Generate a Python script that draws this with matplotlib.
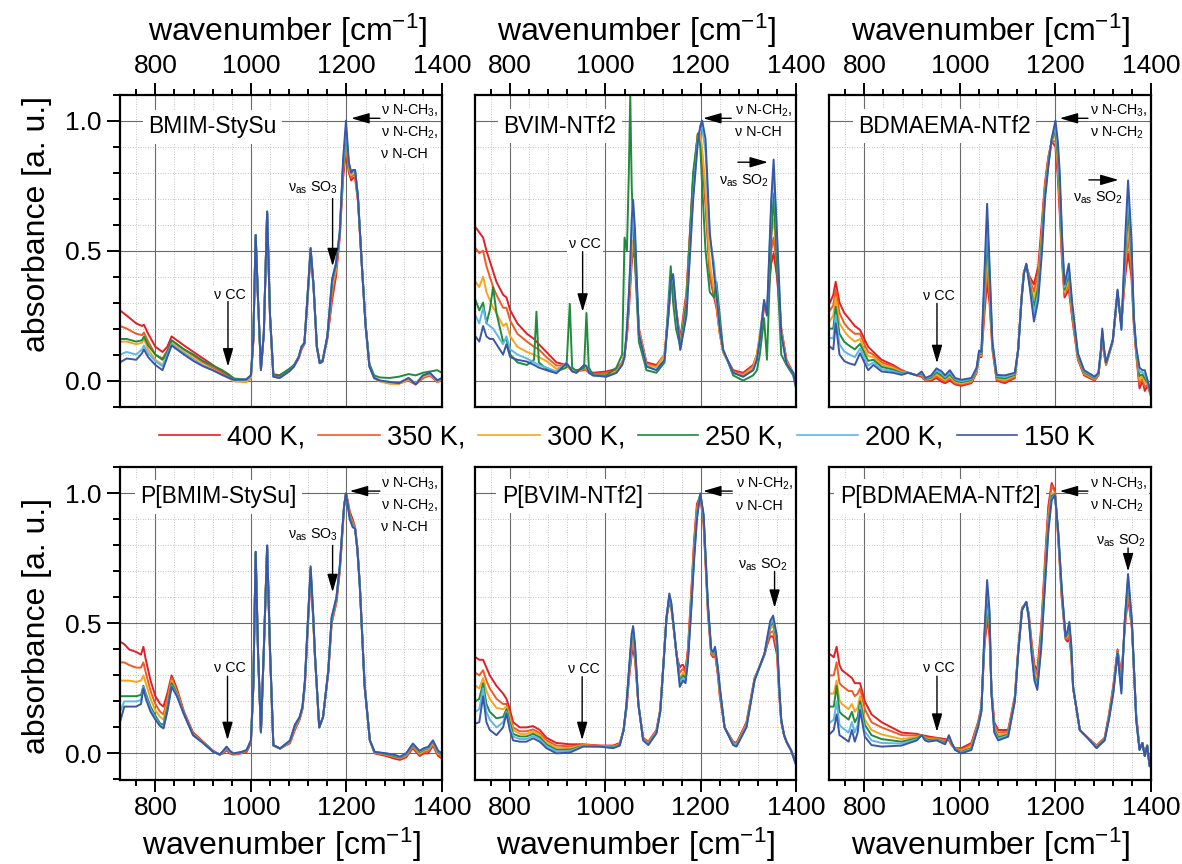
import matplotlib
matplotlib.use("Agg")
import matplotlib.pyplot as plt
from matplotlib.ticker import FixedLocator, MultipleLocator, FormatStrFormatter

plt.rcParams['font.family'] = ['Liberation Sans', 'DejaVu Sans']
plt.rcParams['mathtext.fontset'] = 'custom'
plt.rcParams['mathtext.rm'] = 'Liberation Sans'
plt.rcParams['mathtext.it'] = 'Liberation Sans:italic'
plt.rcParams['mathtext.bf'] = 'Liberation Sans:bold'

temps = ["400 K", "350 K", "300 K", "250 K", "200 K", "150 K"]
colors = ["#e31e24", "#f15a24", "#f8a51c", "#1f8b3b", "#5cb8e8", "#3a56a6"]

# ---------------- BMIM-StySu ----------------
bmim_wn = [726, 740, 760, 772, 776, 785, 800, 815, 825, 834, 845, 860, 880, 900, 920, 940, 952, 965, 990, 1000,
           1005, 1010, 1015, 1021, 1027, 1034, 1040, 1047, 1060, 1080, 1090, 1100, 1106, 1112, 1118, 1125, 1131, 1138, 1144, 1150,
           1160, 1170, 1178, 1186, 1193, 1199, 1205, 1210, 1214, 1218, 1224, 1232, 1240, 1248, 1258, 1270, 1290, 1310, 1330, 1345,
           1360, 1375, 1390, 1400]
bmim_400 = [0.27, 0.25, 0.22, 0.21, 0.215, 0.18, 0.13, 0.11, 0.13, 0.17,
            0.155, 0.135, 0.11, 0.085, 0.06, 0.035, 0.02, 0.005, -0.005, 0.01,
            0.15, 0.55, 0.30, 0.05, 0.18, 0.64, 0.25, 0.025, 0.02, 0.04,
            0.055, 0.085, 0.12, 0.14, 0.29, 0.49, 0.36, 0.13, 0.07, 0.075,
            0.16, 0.31, 0.40, 0.55, 0.78, 0.88, 0.80, 0.77, 0.78, 0.78,
            0.69, 0.45, 0.22, 0.06, 0.012, 0.0, -0.01, -0.01, 0.0, -0.015,
            0.01, 0.02, -0.005, 0.0]
bmim_350 = [0.21, 0.20, 0.18, 0.175, 0.185, 0.15, 0.10, 0.085, 0.115, 0.155,
            0.14, 0.12, 0.095, 0.07, 0.05, 0.03, 0.015, 0.0, -0.005, 0.01,
            0.15, 0.555, 0.30, 0.045, 0.18, 0.645, 0.25, 0.02, 0.015, 0.037,
            0.055, 0.087, 0.125, 0.142, 0.30, 0.50, 0.365, 0.13, 0.068, 0.074,
            0.165, 0.33, 0.42, 0.56, 0.80, 0.90, 0.81, 0.78, 0.79, 0.79,
            0.70, 0.45, 0.215, 0.057, 0.01, -0.002, -0.01, -0.012, 0.002, -0.012,
            0.012, 0.022, -0.005, 0.002]
bmim_300 = [0.15, 0.15, 0.14, 0.145, 0.16, 0.12, 0.08, 0.06, 0.10, 0.145,
            0.13, 0.11, 0.085, 0.06, 0.042, 0.022, 0.01, -0.003, -0.006, 0.01,
            0.155, 0.56, 0.305, 0.04, 0.18, 0.65, 0.25, 0.015, 0.01, 0.035,
            0.054, 0.088, 0.128, 0.144, 0.305, 0.505, 0.368, 0.13, 0.066, 0.073,
            0.168, 0.36, 0.43, 0.565, 0.82, 0.93, 0.82, 0.79, 0.80, 0.80,
            0.705, 0.45, 0.21, 0.055, 0.008, -0.003, -0.012, -0.012, 0.003, -0.01,
            0.014, 0.024, -0.004, 0.004]
bmim_250 = [0.16, 0.16, 0.15, 0.155, 0.17, 0.135, 0.10, 0.08, 0.11, 0.155,
            0.14, 0.12, 0.10, 0.075, 0.058, 0.04, 0.026, 0.008, 0.004, 0.02,
            0.16, 0.56, 0.31, 0.045, 0.18, 0.65, 0.25, 0.02, 0.02, 0.045,
            0.06, 0.092, 0.13, 0.146, 0.31, 0.505, 0.37, 0.135, 0.072, 0.078,
            0.17, 0.38, 0.445, 0.57, 0.83, 0.95, 0.83, 0.80, 0.81, 0.81,
            0.71, 0.455, 0.22, 0.065, 0.02, 0.012, 0.01, 0.015, 0.025, 0.02,
            0.03, 0.035, 0.04, 0.03]
bmim_200 = [0.10, 0.11, 0.10, 0.12, 0.135, 0.105, 0.075, 0.055, 0.10, 0.14,
            0.125, 0.105, 0.08, 0.058, 0.04, 0.022, 0.013, 0.003, 0.004, 0.02,
            0.16, 0.56, 0.31, 0.04, 0.18, 0.65, 0.25, 0.015, 0.01, 0.035,
            0.054, 0.09, 0.13, 0.145, 0.31, 0.51, 0.37, 0.13, 0.067, 0.073,
            0.17, 0.39, 0.45, 0.57, 0.84, 0.97, 0.835, 0.80, 0.81, 0.81,
            0.71, 0.45, 0.21, 0.055, 0.01, 0.0, -0.005, -0.008, 0.01, -0.01,
            0.02, 0.028, 0.002, 0.01]
bmim_150 = [0.07, 0.085, 0.08, 0.105, 0.12, 0.09, 0.06, 0.04, 0.09, 0.135,
            0.12, 0.10, 0.075, 0.055, 0.04, 0.022, 0.012, 0.003, 0.004, 0.02,
            0.16, 0.56, 0.31, 0.04, 0.18, 0.65, 0.25, 0.015, 0.01, 0.035,
            0.054, 0.09, 0.13, 0.145, 0.31, 0.51, 0.37, 0.13, 0.067, 0.073,
            0.17, 0.39, 0.45, 0.57, 0.85, 1.0, 0.84, 0.80, 0.81, 0.81,
            0.71, 0.45, 0.21, 0.054, 0.01, 0.0, -0.005, -0.01, 0.01, -0.015,
            0.02, 0.03, 0.0, 0.01]

# ---------------- BVIM-NTf2 ----------------
bvim_wn = [727, 735, 743, 750, 757, 764, 771, 785, 792, 800,
           815, 835, 850, 855, 860, 876, 897, 918, 925, 930,
           939, 955, 960, 965, 974, 1002, 1023, 1035, 1040, 1045,
           1049, 1052, 1055, 1058, 1062, 1070, 1086, 1107, 1124, 1132,
           1137, 1142, 1148, 1157, 1170, 1184, 1194, 1199, 1203, 1210,
           1219, 1228, 1233, 1240, 1247, 1268, 1289, 1310, 1318, 1324,
           1333, 1339, 1348, 1353, 1360, 1369, 1380, 1394, 1400]
bvim_400 = [0.59, 0.57, 0.55, 0.50, 0.46, 0.42, 0.38, 0.33, 0.32, 0.27,
            0.22, 0.18, 0.16, 0.15, 0.14, 0.11, 0.07, 0.06, 0.05, 0.045,
            0.04, 0.045, 0.04, 0.035, 0.03, 0.035, 0.045, 0.07, 0.10, 0.17,
            0.27, 0.36, 0.45, 0.50, 0.47, 0.20, 0.07, 0.06, 0.10, 0.25,
            0.36, 0.37, 0.28, 0.16, 0.34, 0.78, 0.95, 0.93, 0.85, 0.68,
            0.40, 0.32, 0.28, 0.18, 0.11, 0.04, 0.03, 0.06, 0.10, 0.16,
            0.28, 0.27, 0.45, 0.49, 0.40, 0.20, 0.08, 0.03, -0.01]
bvim_350 = [0.51, 0.49, 0.50, 0.44, 0.40, 0.36, 0.33, 0.28, 0.28, 0.23,
            0.18, 0.15, 0.13, 0.125, 0.12, 0.09, 0.058, 0.058, 0.045, 0.04,
            0.035, 0.04, 0.04, 0.03, 0.025, 0.03, 0.04, 0.07, 0.10, 0.18,
            0.29, 0.38, 0.48, 0.52, 0.48, 0.20, 0.065, 0.055, 0.10, 0.26,
            0.37, 0.38, 0.27, 0.15, 0.33, 0.77, 0.95, 0.94, 0.87, 0.70,
            0.42, 0.33, 0.29, 0.18, 0.11, 0.035, 0.025, 0.055, 0.10, 0.17,
            0.29, 0.27, 0.50, 0.55, 0.44, 0.20, 0.075, 0.03, -0.01]
bvim_300 = [0.38, 0.36, 0.40, 0.34, 0.31, 0.28, 0.26, 0.21, 0.22, 0.17,
            0.13, 0.11, 0.10, 0.095, 0.09, 0.075, 0.045, 0.06, 0.045, 0.035,
            0.03, 0.05, 0.045, 0.03, 0.02, 0.02, 0.035, 0.065, 0.10, 0.19,
            0.31, 0.40, 0.50, 0.54, 0.49, 0.19, 0.06, 0.05, 0.10, 0.27,
            0.38, 0.39, 0.27, 0.14, 0.31, 0.76, 0.95, 0.95, 0.89, 0.74,
            0.45, 0.35, 0.30, 0.18, 0.11, 0.03, 0.02, 0.05, 0.10, 0.18,
            0.30, 0.26, 0.56, 0.62, 0.48, 0.19, 0.07, 0.03, -0.015]
bvim_250 = [0.31, 0.27, 0.30, 0.22, 0.27, 0.36, 0.26, 0.15, 0.16, 0.10,
            0.07, 0.06, 0.08, 0.265, 0.07, 0.045, 0.035, 0.05, 0.295, 0.05,
            0.035, 0.05, 0.26, 0.05, 0.02, 0.02, 0.05, 0.10, 0.55, 0.50,
            0.80, 1.10, 0.75, 0.60, 0.45, 0.15, 0.04, 0.03, 0.07, 0.30,
            0.44, 0.30, 0.20, 0.13, 0.30, 0.80, 0.95, 0.90, 0.75, 0.50,
            0.34, 0.32, 0.38, 0.25, 0.12, 0.02, 0.0, 0.02, 0.04, 0.10,
            0.24, 0.08, 0.55, 0.72, 0.45, 0.10, 0.06, 0.02, -0.03]
bvim_200 = [0.25, 0.22, 0.28, 0.22, 0.21, 0.20, 0.18, 0.14, 0.17, 0.12,
            0.10, 0.085, 0.07, 0.065, 0.06, 0.05, 0.035, 0.07, 0.05, 0.04,
            0.03, 0.06, 0.055, 0.03, 0.02, 0.015, 0.03, 0.06, 0.09, 0.20,
            0.33, 0.44, 0.58, 0.63, 0.55, 0.18, 0.055, 0.04, 0.08, 0.26,
            0.38, 0.40, 0.28, 0.12, 0.26, 0.71, 0.93, 0.97, 0.97, 0.88,
            0.55, 0.45, 0.35, 0.20, 0.115, 0.03, 0.015, 0.04, 0.08, 0.16,
            0.31, 0.25, 0.67, 0.80, 0.56, 0.18, 0.065, 0.03, -0.02]
bvim_150 = [0.17, 0.15, 0.21, 0.17, 0.16, 0.16, 0.14, 0.10, 0.14, 0.09,
            0.08, 0.073, 0.06, 0.055, 0.05, 0.04, 0.028, 0.067, 0.05, 0.035,
            0.03, 0.06, 0.055, 0.03, 0.02, 0.015, 0.03, 0.06, 0.09, 0.20,
            0.33, 0.45, 0.62, 0.695, 0.58, 0.18, 0.054, 0.04, 0.08, 0.25,
            0.38, 0.41, 0.28, 0.118, 0.25, 0.695, 0.92, 0.98, 1.0, 0.93,
            0.57, 0.41, 0.33, 0.20, 0.118, 0.03, 0.015, 0.04, 0.08, 0.156,
            0.31, 0.25, 0.695, 0.85, 0.57, 0.18, 0.065, 0.03, -0.02]

# ---------------- BDMAEMA-NTf2 ----------------
bdma_wn = [728, 735, 740, 748, 758, 767, 780, 791, 800, 808,
           819, 836, 860, 878, 892, 910, 920, 928, 940, 951,
           962, 969, 979, 990, 1003, 1024, 1035, 1040, 1045, 1051,
           1057, 1062, 1068, 1077, 1094, 1115, 1122, 1129, 1134, 1139,
           1146, 1155, 1164, 1172, 1178, 1185, 1192, 1200, 1205, 1209,
           1214, 1219, 1228, 1235, 1247, 1260, 1282, 1290, 1295, 1298,
           1302, 1306, 1320, 1330, 1338, 1346, 1352, 1359, 1364, 1369,
           1376, 1382, 1387, 1393, 1400]
bdma_400 = [0.30, 0.33, 0.38, 0.30, 0.26, 0.24, 0.21, 0.195, 0.16, 0.13,
            0.11, 0.08, 0.06, 0.04, 0.03, 0.02, 0.015, 0.0, 0.0, 0.01,
            -0.005, -0.01, 0.0, -0.015, -0.02, -0.01, 0.03, 0.09, 0.09, 0.25,
            0.38, 0.30, 0.12, 0.0, -0.01, 0.01, 0.12, 0.32, 0.42, 0.44,
            0.40, 0.37, 0.44, 0.62, 0.76, 0.86, 0.92, 0.90, 0.78, 0.64,
            0.45, 0.32, 0.35, 0.24, 0.08, 0.02, 0.0, 0.02, 0.10, 0.16,
            0.10, 0.06, 0.15, 0.33, 0.22, 0.40, 0.49, 0.40, 0.22, 0.10,
            -0.03, 0.0, -0.04, -0.02, -0.06]
bdma_350 = [0.27, 0.29, 0.35, 0.26, 0.22, 0.20, 0.18, 0.18, 0.14, 0.11,
            0.10, 0.07, 0.055, 0.036, 0.03, 0.02, 0.02, 0.002, 0.004, 0.017,
            0.003, -0.004, 0.008, -0.01, -0.015, -0.006, 0.034, 0.095, 0.094, 0.28,
            0.43, 0.33, 0.126, 0.004, -0.004, 0.014, 0.12, 0.318, 0.418, 0.442,
            0.392, 0.341, 0.414, 0.596, 0.747, 0.852, 0.922, 0.92, 0.808, 0.672,
            0.47, 0.33, 0.37, 0.252, 0.085, 0.024, 0.003, 0.022, 0.104, 0.168,
            0.104, 0.062, 0.151, 0.334, 0.215, 0.43, 0.55, 0.43, 0.226, 0.106,
            -0.014, 0.008, -0.024, -0.016, -0.058]
bdma_300 = [0.23, 0.25, 0.32, 0.22, 0.19, 0.17, 0.15, 0.16, 0.12, 0.094,
            0.09, 0.062, 0.048, 0.033, 0.03, 0.02, 0.023, 0.004, 0.008, 0.025,
            0.011, 0.002, 0.016, -0.005, -0.011, -0.002, 0.038, 0.10, 0.098, 0.31,
            0.48, 0.36, 0.132, 0.009, 0.002, 0.018, 0.12, 0.316, 0.416, 0.444,
            0.384, 0.313, 0.388, 0.572, 0.734, 0.844, 0.924, 0.94, 0.836, 0.704,
            0.49, 0.34, 0.39, 0.264, 0.09, 0.028, 0.006, 0.024, 0.107, 0.176,
            0.108, 0.064, 0.152, 0.338, 0.21, 0.46, 0.60, 0.46, 0.232, 0.112,
            0.002, 0.016, -0.008, -0.012, -0.056]
bdma_250 = [0.20, 0.20, 0.284, 0.18, 0.149, 0.136, 0.12, 0.141, 0.106, 0.076,
            0.08, 0.053, 0.042, 0.029, 0.03, 0.02, 0.027, 0.006, 0.012, 0.032,
            0.019, 0.008, 0.024, 0.0, -0.006, 0.002, 0.042, 0.105, 0.102, 0.34,
            0.55, 0.39, 0.138, 0.013, 0.008, 0.022, 0.12, 0.314, 0.414, 0.446,
            0.376, 0.284, 0.362, 0.548, 0.721, 0.836, 0.926, 0.96, 0.864, 0.736,
            0.51, 0.35, 0.41, 0.276, 0.095, 0.032, 0.009, 0.026, 0.111, 0.184,
            0.112, 0.066, 0.154, 0.342, 0.205, 0.49, 0.658, 0.49, 0.238, 0.118,
            0.018, 0.024, 0.008, -0.008, -0.054]
bdma_200 = [0.164, 0.162, 0.252, 0.14, 0.112, 0.102, 0.09, 0.123, 0.088, 0.058,
            0.07, 0.044, 0.036, 0.026, 0.03, 0.02, 0.031, 0.008, 0.016, 0.04,
            0.027, 0.014, 0.032, 0.005, -0.002, 0.006, 0.046, 0.11, 0.106, 0.37,
            0.62, 0.42, 0.144, 0.018, 0.014, 0.026, 0.12, 0.312, 0.412, 0.448,
            0.368, 0.256, 0.336, 0.524, 0.708, 0.828, 0.928, 0.98, 0.892, 0.768,
            0.53, 0.36, 0.43, 0.288, 0.10, 0.036, 0.012, 0.028, 0.114, 0.192,
            0.116, 0.068, 0.155, 0.346, 0.20, 0.52, 0.714, 0.52, 0.244, 0.124,
            0.034, 0.032, 0.024, -0.004, -0.052]
bdma_150 = [0.13, 0.12, 0.22, 0.10, 0.075, 0.067, 0.06, 0.105, 0.07, 0.04,
            0.06, 0.035, 0.03, 0.022, 0.03, 0.02, 0.035, 0.01, 0.02, 0.047,
            0.035, 0.02, 0.04, 0.01, 0.003, 0.01, 0.05, 0.115, 0.11, 0.40,
            0.68, 0.45, 0.15, 0.022, 0.02, 0.03, 0.12, 0.31, 0.41, 0.45,
            0.36, 0.227, 0.31, 0.50, 0.695, 0.82, 0.93, 1.0, 0.92, 0.80,
            0.55, 0.37, 0.45, 0.30, 0.105, 0.04, 0.015, 0.03, 0.118, 0.20,
            0.12, 0.07, 0.156, 0.35, 0.195, 0.55, 0.77, 0.55, 0.25, 0.13,
            0.05, 0.04, 0.04, 0.0, -0.05]

# ---------------- P[BMIM-StySu] ----------------
pbmim_wn = [726, 735, 745, 760, 770, 775, 780, 790, 800, 810,
            817, 825, 834, 845, 860, 879, 900, 921, 935, 942,
            949, 956, 963, 980, 991, 1000, 1005, 1010, 1015, 1021,
            1027, 1034, 1040, 1047, 1061, 1082, 1092, 1102, 1108, 1113,
            1119, 1125, 1130, 1134, 1143, 1151, 1162, 1169, 1179, 1186,
            1190, 1195, 1199, 1203, 1207, 1213, 1218, 1223, 1228, 1238,
            1249, 1259, 1283, 1300, 1312, 1325, 1339, 1353, 1362, 1371,
            1381, 1392, 1400]
pbmim_400 = [0.43, 0.42, 0.40, 0.39, 0.38, 0.41, 0.36, 0.28, 0.22, 0.19,
             0.18, 0.23, 0.30, 0.25, 0.16, 0.08, 0.045, 0.01, -0.005, 0.0,
             0.012, 0.0, -0.005, 0.0, 0.005, 0.04, 0.25, 0.77, 0.38, 0.08,
             0.39, 0.79, 0.39, 0.03, 0.018, 0.04, 0.09, 0.13, 0.17, 0.26,
             0.48, 0.68, 0.53, 0.37, 0.10, 0.14, 0.31, 0.50, 0.58, 0.70,
             0.80, 0.95, 1.0, 0.97, 0.93, 0.90, 0.87, 0.79, 0.65, 0.27,
             0.05, 0.0, -0.01, -0.02, -0.025, -0.015, 0.02, -0.01, 0.0, 0.0,
             0.03, -0.01, -0.02]
pbmim_350 = [0.35, 0.35, 0.34, 0.33, 0.33, 0.35, 0.31, 0.24, 0.19, 0.16,
             0.15, 0.21, 0.29, 0.24, 0.155, 0.075, 0.043, 0.008, -0.005, 0.004,
             0.016, 0.004, -0.003, 0.002, 0.008, 0.045, 0.25, 0.77, 0.38, 0.08,
             0.39, 0.795, 0.39, 0.03, 0.018, 0.043, 0.095, 0.133, 0.173, 0.265,
             0.485, 0.69, 0.535, 0.375, 0.10, 0.14, 0.312, 0.505, 0.585, 0.705,
             0.81, 0.95, 1.0, 0.965, 0.92, 0.89, 0.868, 0.787, 0.647, 0.265,
             0.05, 0.002, -0.006, -0.015, -0.02, -0.01, 0.025, -0.005, 0.005, 0.008,
             0.035, -0.005, -0.015]
pbmim_300 = [0.28, 0.28, 0.28, 0.275, 0.28, 0.30, 0.27, 0.21, 0.165, 0.14,
             0.13, 0.19, 0.28, 0.235, 0.152, 0.073, 0.042, 0.007, -0.005, 0.006,
             0.02, 0.006, -0.002, 0.003, 0.01, 0.047, 0.255, 0.773, 0.382, 0.081,
             0.395, 0.797, 0.395, 0.031, 0.018, 0.045, 0.10, 0.135, 0.175, 0.27,
             0.49, 0.70, 0.54, 0.378, 0.10, 0.14, 0.315, 0.51, 0.59, 0.71,
             0.815, 0.95, 1.0, 0.96, 0.915, 0.885, 0.866, 0.785, 0.645, 0.262,
             0.05, 0.003, -0.004, -0.012, -0.018, -0.007, 0.03, 0.0, 0.01, 0.015,
             0.04, 0.0, -0.01]
pbmim_250 = [0.22, 0.22, 0.22, 0.22, 0.225, 0.26, 0.23, 0.18, 0.145, 0.115,
             0.11, 0.175, 0.27, 0.23, 0.15, 0.07, 0.04, 0.006, -0.005, 0.008,
             0.022, 0.008, -0.001, 0.004, 0.011, 0.048, 0.257, 0.774, 0.384, 0.082,
             0.397, 0.798, 0.397, 0.031, 0.019, 0.047, 0.105, 0.138, 0.178, 0.275,
             0.495, 0.71, 0.545, 0.38, 0.10, 0.14, 0.318, 0.515, 0.595, 0.715,
             0.82, 0.95, 1.0, 0.955, 0.91, 0.88, 0.865, 0.782, 0.643, 0.26,
             0.05, 0.004, -0.002, -0.01, -0.016, -0.004, 0.033, 0.004, 0.014, 0.02,
             0.045, 0.004, -0.005]
pbmim_200 = [0.16, 0.20, 0.20, 0.20, 0.205, 0.255, 0.22, 0.17, 0.135, 0.11,
             0.10, 0.165, 0.26, 0.225, 0.15, 0.07, 0.04, 0.006, -0.004, 0.009,
             0.024, 0.009, 0.0, 0.005, 0.012, 0.049, 0.258, 0.775, 0.385, 0.083,
             0.40, 0.80, 0.40, 0.032, 0.019, 0.048, 0.108, 0.14, 0.18, 0.278,
             0.50, 0.715, 0.548, 0.383, 0.10, 0.14, 0.32, 0.52, 0.60, 0.72,
             0.825, 0.95, 1.0, 0.95, 0.905, 0.875, 0.865, 0.78, 0.64, 0.258,
             0.05, 0.005, 0.0, -0.007, -0.014, -0.002, 0.036, 0.007, 0.017, 0.022,
             0.048, 0.007, -0.002]
pbmim_150 = [0.12, 0.18, 0.18, 0.18, 0.19, 0.25, 0.21, 0.16, 0.13, 0.105,
             0.096, 0.16, 0.256, 0.22, 0.15, 0.07, 0.04, 0.006, -0.004, 0.01,
             0.026, 0.01, 0.0, 0.005, 0.013, 0.05, 0.26, 0.776, 0.385, 0.083,
             0.40, 0.80, 0.40, 0.032, 0.019, 0.05, 0.11, 0.14, 0.18, 0.28,
             0.50, 0.72, 0.55, 0.385, 0.10, 0.14, 0.32, 0.525, 0.60, 0.72,
             0.83, 0.95, 1.0, 0.95, 0.90, 0.87, 0.865, 0.78, 0.64, 0.256,
             0.05, 0.006, 0.0, -0.005, -0.013, 0.0, 0.038, 0.01, 0.02, 0.025,
             0.05, 0.01, 0.0]

# ---------------- P[BVIM-NTf2] ----------------
pbvim_wn = [727, 735, 743, 750, 757, 771, 785, 792, 799, 806,
            820, 834, 848, 862, 876, 897, 925, 953, 988, 1016,
            1030, 1038, 1044, 1050, 1055, 1058, 1062, 1069, 1079, 1090,
            1107, 1115, 1121, 1128, 1134, 1138, 1142, 1149, 1156, 1160,
            1163, 1168, 1173, 1180, 1186, 1192, 1199, 1206, 1215, 1222,
            1226, 1230, 1236, 1240, 1250, 1268, 1275, 1296, 1313, 1325,
            1334, 1340, 1346, 1352, 1360, 1365, 1369, 1375, 1380, 1390,
            1400]
pbvim_400 = [0.37, 0.36, 0.36, 0.33, 0.30, 0.26, 0.23, 0.21, 0.17, 0.12,
             0.10, 0.10, 0.105, 0.09, 0.06, 0.04, 0.035, 0.035, 0.03, 0.03,
             0.04, 0.09, 0.17, 0.30, 0.38, 0.40, 0.36, 0.19, 0.06, 0.045,
             0.09, 0.17, 0.33, 0.52, 0.58, 0.56, 0.50, 0.38, 0.33, 0.34,
             0.34, 0.32, 0.40, 0.62, 0.82, 0.96, 0.99, 0.88, 0.54, 0.38,
             0.37, 0.38, 0.30, 0.22, 0.10, 0.045, 0.04, 0.12, 0.29, 0.34,
             0.38, 0.42, 0.45, 0.45, 0.38, 0.22, 0.12, 0.07, 0.045, 0.01,
             -0.03]
pbvim_350 = [0.31, 0.30, 0.32, 0.28, 0.25, 0.21, 0.19, 0.19, 0.15, 0.10,
             0.085, 0.085, 0.092, 0.078, 0.05, 0.03, 0.027, 0.033, 0.029, 0.027,
             0.037, 0.09, 0.175, 0.31, 0.40, 0.42, 0.375, 0.19, 0.057, 0.042,
             0.087, 0.167, 0.328, 0.52, 0.589, 0.565, 0.503, 0.381, 0.31, 0.32,
             0.325, 0.31, 0.39, 0.60, 0.80, 0.945, 0.995, 0.89, 0.55, 0.385,
             0.375, 0.39, 0.31, 0.23, 0.10, 0.042, 0.036, 0.115, 0.288, 0.34,
             0.381, 0.428, 0.465, 0.47, 0.40, 0.228, 0.123, 0.07, 0.045, 0.01,
             -0.034]
pbvim_300 = [0.26, 0.25, 0.29, 0.24, 0.21, 0.175, 0.17, 0.18, 0.135, 0.09,
             0.075, 0.075, 0.083, 0.07, 0.042, 0.022, 0.02, 0.031, 0.028, 0.025,
             0.035, 0.09, 0.18, 0.32, 0.42, 0.44, 0.39, 0.19, 0.055, 0.04,
             0.084, 0.165, 0.325, 0.52, 0.598, 0.57, 0.505, 0.383, 0.29, 0.30,
             0.31, 0.30, 0.375, 0.585, 0.78, 0.93, 0.997, 0.90, 0.56, 0.39,
             0.38, 0.395, 0.315, 0.24, 0.10, 0.039, 0.033, 0.11, 0.285, 0.34,
             0.383, 0.435, 0.48, 0.49, 0.415, 0.235, 0.125, 0.07, 0.045, 0.01,
             -0.038]
pbvim_250 = [0.20, 0.21, 0.27, 0.19, 0.16, 0.135, 0.14, 0.17, 0.12, 0.075,
             0.065, 0.065, 0.075, 0.062, 0.034, 0.014, 0.014, 0.029, 0.027, 0.023,
             0.033, 0.09, 0.185, 0.33, 0.44, 0.465, 0.40, 0.19, 0.053, 0.037,
             0.081, 0.163, 0.323, 0.52, 0.605, 0.575, 0.507, 0.384, 0.28, 0.29,
             0.30, 0.29, 0.365, 0.57, 0.765, 0.92, 0.998, 0.91, 0.565, 0.393,
             0.383, 0.40, 0.32, 0.245, 0.10, 0.036, 0.03, 0.105, 0.283, 0.34,
             0.384, 0.44, 0.49, 0.505, 0.428, 0.24, 0.127, 0.07, 0.045, 0.01,
             -0.04]
pbvim_200 = [0.16, 0.17, 0.25, 0.16, 0.13, 0.10, 0.12, 0.16, 0.105, 0.065,
             0.055, 0.055, 0.067, 0.054, 0.028, 0.008, 0.009, 0.028, 0.027, 0.022,
             0.032, 0.09, 0.187, 0.33, 0.45, 0.475, 0.41, 0.19, 0.052, 0.035,
             0.08, 0.162, 0.322, 0.52, 0.61, 0.577, 0.508, 0.384, 0.27, 0.283,
             0.29, 0.28, 0.36, 0.565, 0.755, 0.91, 0.999, 0.912, 0.57, 0.396,
             0.386, 0.404, 0.324, 0.25, 0.10, 0.035, 0.029, 0.104, 0.282, 0.34,
             0.384, 0.444, 0.498, 0.515, 0.44, 0.245, 0.128, 0.07, 0.045, 0.01,
             -0.042]
pbvim_150 = [0.115, 0.12, 0.22, 0.12, 0.09, 0.07, 0.10, 0.154, 0.09, 0.05,
             0.045, 0.045, 0.058, 0.045, 0.02, 0.0, 0.003, 0.026, 0.026, 0.02,
             0.03, 0.09, 0.19, 0.34, 0.46, 0.49, 0.42, 0.19, 0.05, 0.032,
             0.077, 0.16, 0.32, 0.52, 0.615, 0.58, 0.51, 0.385, 0.256, 0.27,
             0.28, 0.27, 0.35, 0.55, 0.74, 0.90, 1.0, 0.92, 0.577, 0.40,
             0.39, 0.41, 0.33, 0.256, 0.10, 0.032, 0.026, 0.10, 0.28, 0.34,
             0.385, 0.45, 0.51, 0.53, 0.45, 0.25, 0.13, 0.07, 0.045, 0.01,
             -0.045]

# ---------------- P[BDMAEMA-NTf2] ----------------
pbdma_wn = [729, 736, 742, 748, 753, 767, 774, 780, 786, 791,
            801, 815, 836, 878, 910, 920, 927, 934, 951, 969,
            977, 983, 990, 1003, 1024, 1038, 1045, 1051, 1057, 1062,
            1066, 1072, 1080, 1101, 1115, 1122, 1130, 1139, 1144, 1150,
            1156, 1162, 1170, 1178, 1185, 1192, 1199, 1206, 1213, 1221,
            1225, 1229, 1233, 1237, 1251, 1268, 1286, 1303, 1312, 1321,
            1330, 1338, 1345, 1352, 1360, 1369, 1376, 1382, 1387, 1392,
            1397, 1400]
pbdma_400 = [0.38, 0.37, 0.41, 0.34, 0.32, 0.30, 0.29, 0.27, 0.27, 0.27,
             0.20, 0.15, 0.12, 0.08, 0.075, 0.07, 0.068, 0.065, 0.06, 0.055,
             0.05, 0.03, 0.02, 0.02, 0.04, 0.12, 0.18, 0.40, 0.52, 0.45,
             0.25, 0.12, 0.09, 0.09, 0.22, 0.40, 0.56, 0.58, 0.54, 0.43,
             0.34, 0.32, 0.48, 0.74, 0.95, 1.04, 1.01, 0.82, 0.60, 0.44,
             0.43, 0.44, 0.38, 0.25, 0.09, 0.06, 0.03, 0.06, 0.15, 0.26,
             0.40, 0.30, 0.48, 0.60, 0.48, 0.15, 0.02, 0.04, -0.01, 0.03,
             -0.04, -0.04]
pbdma_350 = [0.30, 0.30, 0.35, 0.27, 0.26, 0.24, 0.24, 0.22, 0.23, 0.25,
             0.17, 0.12, 0.10, 0.07, 0.068, 0.07, 0.063, 0.06, 0.058, 0.05,
             0.055, 0.033, 0.018, 0.015, 0.034, 0.115, 0.175, 0.41, 0.555, 0.475,
             0.245, 0.11, 0.08, 0.083, 0.215, 0.396, 0.558, 0.58, 0.535, 0.42,
             0.325, 0.30, 0.46, 0.715, 0.925, 1.03, 1.005, 0.83, 0.61, 0.443,
             0.44, 0.457, 0.39, 0.25, 0.09, 0.06, 0.028, 0.058, 0.145, 0.253,
             0.396, 0.283, 0.488, 0.62, 0.488, 0.145, 0.018, 0.04, -0.01, 0.03,
             -0.043, -0.043]
pbdma_300 = [0.23, 0.23, 0.28, 0.205, 0.19, 0.17, 0.19, 0.16, 0.175, 0.22,
             0.13, 0.09, 0.073, 0.055, 0.063, 0.07, 0.059, 0.055, 0.055, 0.045,
             0.06, 0.035, 0.017, 0.01, 0.027, 0.11, 0.17, 0.425, 0.59, 0.50,
             0.24, 0.10, 0.07, 0.077, 0.21, 0.393, 0.555, 0.582, 0.53, 0.408,
             0.31, 0.282, 0.44, 0.69, 0.90, 1.0, 1.0, 0.835, 0.62, 0.445,
             0.45, 0.473, 0.40, 0.253, 0.09, 0.059, 0.025, 0.055, 0.14, 0.245,
             0.393, 0.265, 0.495, 0.645, 0.495, 0.14, 0.016, 0.04, -0.01, 0.03,
             -0.045, -0.045]
pbdma_250 = [0.18, 0.18, 0.26, 0.16, 0.15, 0.13, 0.16, 0.12, 0.14, 0.20,
             0.11, 0.07, 0.055, 0.045, 0.058, 0.07, 0.056, 0.052, 0.053, 0.042,
             0.063, 0.037, 0.015, 0.006, 0.02, 0.106, 0.166, 0.435, 0.615, 0.52,
             0.236, 0.092, 0.062, 0.072, 0.206, 0.39, 0.553, 0.582, 0.526, 0.40,
             0.298, 0.267, 0.425, 0.67, 0.88, 0.99, 0.998, 0.84, 0.628, 0.447,
             0.458, 0.486, 0.408, 0.254, 0.09, 0.058, 0.023, 0.053, 0.136, 0.239,
             0.39, 0.25, 0.50, 0.663, 0.50, 0.135, 0.015, 0.04, -0.01, 0.03,
             -0.047, -0.047]
pbdma_200 = [0.12, 0.13, 0.20, 0.11, 0.10, 0.08, 0.12, 0.08, 0.11, 0.185,
             0.085, 0.05, 0.04, 0.038, 0.054, 0.07, 0.053, 0.048, 0.051, 0.038,
             0.066, 0.038, 0.014, 0.003, 0.017, 0.103, 0.163, 0.442, 0.64, 0.535,
             0.233, 0.086, 0.056, 0.068, 0.203, 0.387, 0.551, 0.583, 0.523, 0.392,
             0.29, 0.255, 0.41, 0.655, 0.865, 0.98, 0.996, 0.845, 0.634, 0.449,
             0.464, 0.496, 0.414, 0.255, 0.09, 0.058, 0.021, 0.051, 0.133, 0.234,
             0.387, 0.24, 0.505, 0.676, 0.505, 0.13, 0.014, 0.04, -0.01, 0.03,
             -0.048, -0.048]
pbdma_150 = [0.077, 0.09, 0.15, 0.07, 0.064, 0.045, 0.09, 0.045, 0.08, 0.167,
             0.064, 0.032, 0.026, 0.03, 0.05, 0.07, 0.05, 0.045, 0.05, 0.035,
             0.07, 0.04, 0.013, 0.0, 0.013, 0.10, 0.16, 0.45, 0.667, 0.55,
             0.23, 0.08, 0.05, 0.064, 0.20, 0.385, 0.55, 0.583, 0.52, 0.385,
             0.28, 0.244, 0.40, 0.64, 0.85, 0.974, 0.994, 0.85, 0.64, 0.45,
             0.47, 0.506, 0.42, 0.256, 0.09, 0.058, 0.02, 0.05, 0.13, 0.23,
             0.385, 0.23, 0.51, 0.69, 0.51, 0.128, 0.013, 0.04, -0.01, 0.03,
             -0.05, -0.05]

panels = [
    ("BMIM-StySu", bmim_wn, [bmim_400, bmim_350, bmim_300, bmim_250, bmim_200, bmim_150]),
    ("BVIM-NTf2", bvim_wn, [bvim_400, bvim_350, bvim_300, bvim_250, bvim_200, bvim_150]),
    ("BDMAEMA-NTf2", bdma_wn, [bdma_400, bdma_350, bdma_300, bdma_250, bdma_200, bdma_150]),
    ("P[BMIM-StySu]", pbmim_wn, [pbmim_400, pbmim_350, pbmim_300, pbmim_250, pbmim_200, pbmim_150]),
    ("P[BVIM-NTf2]", pbvim_wn, [pbvim_400, pbvim_350, pbvim_300, pbvim_250, pbvim_200, pbvim_150]),
    ("P[BDMAEMA-NTf2]", pbdma_wn, [pbdma_400, pbdma_350, pbdma_300, pbdma_250, pbdma_200, pbdma_150]),
]
for name, wn, ys in panels:
    for y in ys:
        assert len(y) == len(wn), (name, len(y), len(wn))

W, H = 1182, 864
fig = plt.figure(figsize=(W / 100, H / 100), dpi=100)

lefts = [120, 475, 829]
widths = [322, 321, 322]
tops = [94.5, 467.3]
ah = 312.2

nu = "\u03bd"
labels_pos = [(785, 0.951), (785, 0.954), (787, 0.954), (768, 0.962), (782, 0.964), (749, 0.964)]
AFS = 10.3
TFS = 19


def arrow(ax, xy, xytext):
    ax.annotate("", xy=xy, xytext=xytext,
                arrowprops=dict(arrowstyle="-|>,head_length=0.55,head_width=0.16",
                                mutation_scale=20, lw=1.0, color="black",
                                shrinkA=0, shrinkB=0), zorder=5)


def wtext(ax, x, y, s, ha="left", fs=AFS):
    ax.text(x, y, s, ha=ha, va="baseline", fontsize=fs, zorder=1.5,
            bbox=dict(facecolor="white", edgecolor="none", pad=1.5))


for i, (name, wn, ys) in enumerate(panels):
    r, c = divmod(i, 3)
    l = lefts[c] / W
    w = widths[c] / W
    b = 1 - (tops[r] + ah) / H
    ax = fig.add_axes([l, b, w, ah / H])
    ax.set_xlim(726, 1400)
    ax.set_ylim(-0.1005, 1.1005)
    ax.xaxis.set_major_locator(FixedLocator([800, 1000, 1200, 1400]))
    ax.xaxis.set_minor_locator(MultipleLocator(40))
    ax.yaxis.set_major_locator(MultipleLocator(0.5))
    ax.yaxis.set_minor_locator(MultipleLocator(0.1))
    ax.yaxis.set_major_formatter(FormatStrFormatter("%.1f"))
    ax.grid(which="major", color="#6a6a6a", lw=0.8, ls="-")
    ax.grid(which="minor", color="#b0b0b0", lw=0.6, ls=(0, (1, 2)))
    ax.set_axisbelow(True)
    for sp in ax.spines.values():
        sp.set_linewidth(1.6)
    if r == 0:
        ax.tick_params(axis="x", which="both", top=True, bottom=False,
                       labeltop=True, labelbottom=False, direction="out")
    else:
        ax.tick_params(axis="x", which="both", top=False, bottom=True,
                       labeltop=False, labelbottom=True, direction="out")
    ax.tick_params(axis="x", which="major", length=8.6, width=1.4, labelsize=TFS, pad=3)
    ax.tick_params(axis="x", which="minor", length=4.3, width=1.4)
    if c == 0:
        ax.tick_params(axis="y", which="both", left=True, right=False, direction="out")
        ax.tick_params(axis="y", which="major", length=9.5, width=1.4, labelsize=TFS, pad=4)
        ax.tick_params(axis="y", which="minor", length=5, width=1.4)
    else:
        ax.tick_params(axis="y", which="both", left=False, right=False,
                       labelleft=False, labelright=False)

    for y, col in zip(ys, colors):
        ax.plot(wn, y, color=col, lw=1.4, zorder=2, clip_on=True)

    lx, ly = labels_pos[i]
    ax.text(lx, ly, name, ha="left", va="baseline", fontsize=16.5, zorder=1.5,
            bbox=dict(facecolor="white", edgecolor="none", pad=4))

fig_axes = fig.axes

# ---- annotations ----
sub = lambda s: "$_{\\mathregular{" + s + "}}$"
# panel 1
ax = fig_axes[0]
wtext(ax, 956, 0.313, nu + " CC", ha="center")
arrow(ax, (952, 0.054), (952, 0.304))
wtext(ax, 1130, 0.727, nu + sub("as") + " SO" + sub("3"), ha="center")
arrow(ax, (1171, 0.44), (1171, 0.70))
wtext(ax, 1273, 1.024, nu + " N-CH" + sub("3") + ",")
wtext(ax, 1273, 0.938, nu + " N-CH" + sub("2") + ",")
wtext(ax, 1273, 0.855, nu + " N-CH")
arrow(ax, (1210, 1.009), (1270, 1.009))
# panel 2
ax = fig_axes[1]
wtext(ax, 957, 0.509, nu + " CC", ha="center")
arrow(ax, (952, 0.265), (952, 0.496))
wtext(ax, 1290, 0.753, nu + sub("as") + " SO" + sub("2"), ha="center")
arrow(ax, (1341, 0.84), (1278, 0.84))
wtext(ax, 1271, 1.024, nu + " N-CH" + sub("2") + ",")
wtext(ax, 1271, 0.94, nu + " N-CH")
arrow(ax, (1205, 1.009), (1264, 1.009))
# panel 3
ax = fig_axes[2]
wtext(ax, 955, 0.31, nu + " CC", ha="center")
arrow(ax, (952, 0.067), (952, 0.297))
wtext(ax, 1289, 0.688, nu + sub("as") + " SO" + sub("2"), ha="center")
arrow(ax, (1332, 0.772), (1270, 0.772))
wtext(ax, 1272, 1.024, nu + " N-CH" + sub("3") + ",")
wtext(ax, 1272, 0.94, nu + " N-CH" + sub("2"))
arrow(ax, (1209, 1.009), (1268, 1.009))
# panel 4
ax = fig_axes[3]
wtext(ax, 956, 0.312, nu + " CC", ha="center")
arrow(ax, (951, 0.051), (951, 0.297))
wtext(ax, 1130, 0.827, nu + sub("as") + " SO" + sub("3"), ha="center")
arrow(ax, (1171, 0.62), (1171, 0.80))
wtext(ax, 1273, 1.022, nu + " N-CH" + sub("3") + ",")
wtext(ax, 1273, 0.938, nu + " N-CH" + sub("2") + ",")
wtext(ax, 1273, 0.855, nu + " N-CH")
arrow(ax, (1207, 1.009), (1270, 1.009))
# panel 5
ax = fig_axes[4]
wtext(ax, 955, 0.308, nu + " CC", ha="center")
arrow(ax, (951, 0.051), (951, 0.295))
wtext(ax, 1331, 0.712, nu + sub("as") + " SO" + sub("2"), ha="center")
arrow(ax, (1355, 0.56), (1355, 0.70))
wtext(ax, 1273, 1.022, nu + " N-CH" + sub("2") + ",")
wtext(ax, 1273, 0.938, nu + " N-CH")
arrow(ax, (1205, 1.009), (1266, 1.009))
# panel 6
ax = fig_axes[5]
wtext(ax, 955, 0.312, nu + " CC", ha="center")
arrow(ax, (952, 0.083), (952, 0.297))
wtext(ax, 1337, 0.805, nu + sub("as") + " SO" + sub("2"), ha="center")
arrow(ax, (1352, 0.70), (1352, 0.79))
wtext(ax, 1272, 1.022, nu + " N-CH" + sub("3") + ",")
wtext(ax, 1272, 0.938, nu + " N-CH" + sub("2"))
arrow(ax, (1209, 1.009), (1268, 1.009))

# ---- axis titles ----
xlab = "wavenumber [cm$^{\\mathregular{-1}}$]"
for cx in [287, 636, 990]:
    fig.text(cx / W, 1 - 41 / H, xlab, ha="center", va="baseline", fontsize=23)
for cx in [281, 635, 990]:
    fig.text(cx / W, 1 - 855 / H, xlab, ha="center", va="baseline", fontsize=23)
ylab = "absorbance [a. u.]"
fig.text(37 / W, 1 - 224 / H, ylab, rotation=90, ha="center", va="center", fontsize=23)
fig.text(37 / W, 1 - 626 / H, ylab, rotation=90, ha="center", va="center", fontsize=23)

# ---- legend (manual) ----
leg_lines = [(159, 220), (318, 380), (478, 540), (638, 698), (797, 858), (957, 1017)]
leg_texts = ["400 K,", "350 K,", "300 K,", "250 K,", "200 K,", "150 K"]
ly = 1 - 435 / H
for (x0, x1), t, col in zip(leg_lines, leg_texts, colors):
    fig.add_artist(plt.Line2D([x0 / W, x1 / W], [ly, ly], color=col, lw=1.2,
                              transform=fig.transFigure))
    fig.text((x1 + 7) / W, 1 - 445 / H, t, ha="left", va="baseline", fontsize=19.5)

fig.savefig("out.png", dpi=100)
